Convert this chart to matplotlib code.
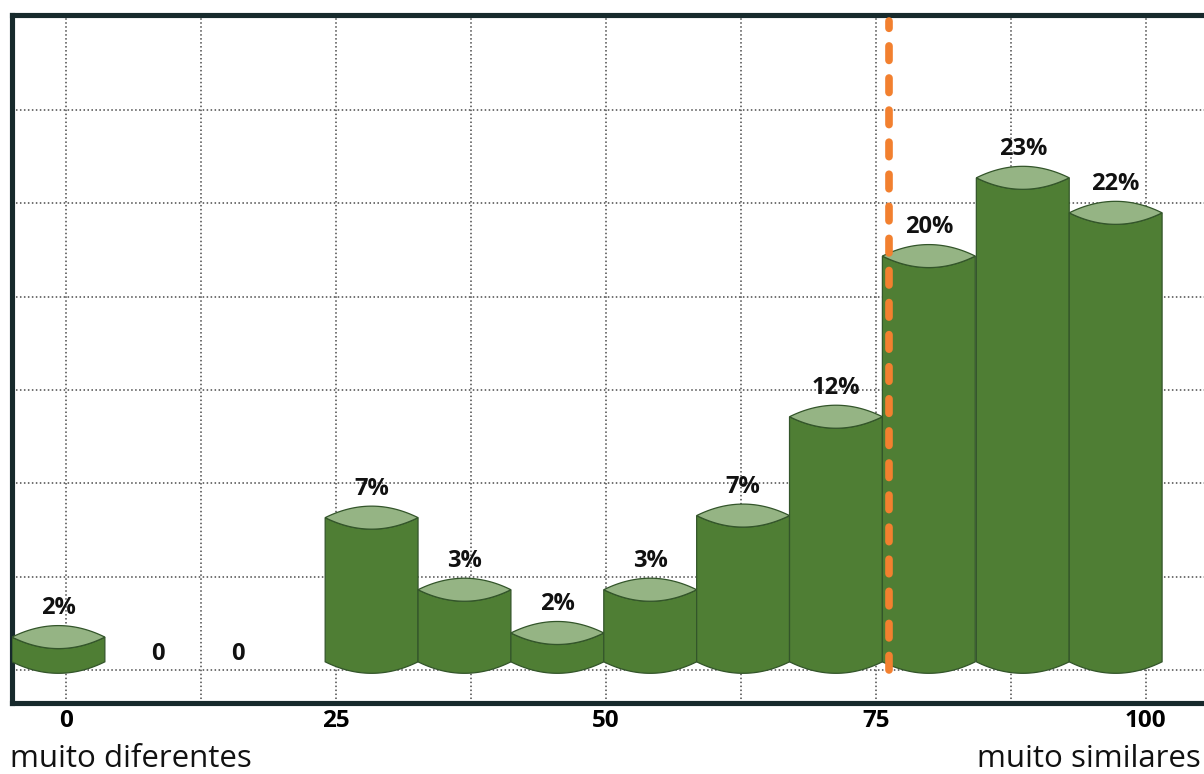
import numpy as np
import matplotlib
matplotlib.use('Agg')
import matplotlib.pyplot as plt
from matplotlib.patches import Polygon

# centro de cada faixa na escala de similaridade (0 = muito diferentes, 100 = muito similares)
bin_centers = [-0.7, 8.5, 15.9, 28.3, 36.9, 45.5, 54.1, 62.7, 71.3, 79.9, 88.6, 97.2]
shares = [1.2, 0, 0, 7.0, 3.5, 1.4, 3.5, 7.1, 11.9, 19.7, 23.5, 21.8]
# rotulos mostrados em cima das barras
share_labels = ['2%', '0', '0', '7%', '3%', '2%', '3%', '7%', '12%', '20%', '23%', '22%']
# marcas do eixo x
tick_values = [0, 25, 50, 75, 100]
# linha de corte tracejada
cutoff = 76.2

plt.rcParams['font.family'] = ['Open Sans', 'DejaVu Sans']

body_color = '#4f7e34'
top_color = '#95b484'
edge_color = '#33552a'
frame_color = '#172a2c'
orange = '#f2802f'

fig = plt.figure(figsize=(12.04, 7.74), dpi=100)
ax = fig.add_axes([12 / 1204, 71 / 774, 1203 / 1204, 688.5 / 774])
ax.set_xlim(-5.0, 106.4)
ax.set_ylim(-2.0, 31.43)

# grade pontilhada
ax.set_xticks(tick_values)
ax.set_xticks(np.arange(12.5, 100, 25), minor=True)
grid_y = -0.39 + 4.53 * np.arange(7)
ax.set_yticks(grid_y)
ax.set_yticklabels([])
ax.grid(True, which='both', color='#4a4a4a', linestyle=(0, (1, 1.6)), linewidth=1.1)
ax.set_axisbelow(True)
ax.tick_params(which='both', length=0)
ax.tick_params(axis='x', pad=4.5, labelsize=17.5)
for lab in ax.get_xticklabels():
    lab.set_fontweight('bold')

for side in ['left', 'right', 'top', 'bottom']:
    ax.spines[side].set_color(frame_color)
    ax.spines[side].set_linewidth(3.7)

# escala em pixels para a curvatura dos cilindros
p0, p1 = ax.transData.transform([(0, 0), (1, 1)])
px_per_y = p1[1] - p0[1]
sag = 11.5 / px_per_y
bar_w = 8.6

t = np.linspace(0, 1, 60)
arc = sag * 4 * t * (1 - t)

#desenha cada barra como um cilindro
for xc, h, lab in zip(bin_centers, shares, share_labels):
    if h > 0:
        xs = xc - bar_w / 2 + bar_w * t
        body = np.vstack([
            np.column_stack([xs, h - arc]),
            np.column_stack([xs[::-1], -arc[::-1]]),
        ])
        ax.add_patch(Polygon(body, closed=True, facecolor=body_color,
                             edgecolor=edge_color, linewidth=0.9, zorder=3))
        lens = np.vstack([
            np.column_stack([xs, h + arc]),
            np.column_stack([xs[::-1], h - arc[::-1]]),
        ])
        ax.add_patch(Polygon(lens, closed=True, facecolor=top_color,
                             edgecolor=edge_color, linewidth=0.9, zorder=4))
        ly = h + 29 / px_per_y
    else:
        ly = h + 8 / px_per_y
    ax.text(xc, ly, lab, ha='center', va='center', fontsize=17,
            fontweight='bold', color='#111111', zorder=6)

# linha tracejada laranja
ax.plot([cutoff, cutoff], [-0.39, 31.1], color=orange, linewidth=5.5,
        dashes=(1.9, 2.3), dash_capstyle='round', zorder=5)

fig.text(10 / 1204, 0.009, 'muito diferentes', ha='left', va='baseline',
         fontsize=22.5, color='#111111')
fig.text(977 / 1204, 0.009, 'muito similares', ha='left', va='baseline',
         fontsize=22.5, color='#111111')

fig.savefig('out.png', dpi=100, facecolor='white')
